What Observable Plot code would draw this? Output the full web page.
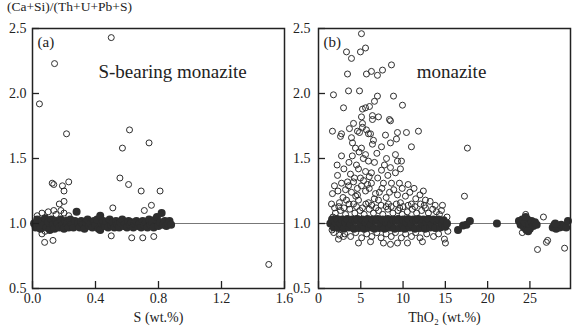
<!DOCTYPE html>
<html>
<head>
<meta charset="utf-8">
<script src="https://cdn.jsdelivr.net/npm/d3@7"></script>
<script src="https://cdn.jsdelivr.net/npm/@observablehq/plot@0.6"></script>
<style>
  body { margin: 0; background: #fff; }
  #wrap { position: relative; width: 577px; height: 328px; font-family: "Liberation Serif", "Times New Roman", Times, "DejaVu Serif", serif; color: #222; }
  #title { position: absolute; left: 7px; top: 0px; font-size: 13.5px; line-height: 14px; }
  #pa { position: absolute; left: 0; top: 0; }
  #pb { position: absolute; left: 288px; top: 0; }
  #wrap svg, #wrap svg text { font-family: "Liberation Serif", "Times New Roman", Times, "DejaVu Serif", serif !important; }
</style>
</head>
<body>
<div id="wrap">
  <div id="pa"></div>
  <div id="pb"></div>
  <div id="title">(Ca+Si)/(Th+U+Pb+S)</div>
</div>
<script>
// Shared y axis: (Ca+Si)/(Th+U+Pb+S)
const yTicks = [0.5, 1.0, 1.5, 2.0, 2.5];

// Panel (a): S-bearing monazite, x = S (wt.%)
const sTicks = [0.0, 0.4, 0.8, 1.2, 1.6];
const sOpen = [
  [0.044,1.92],[0.14,2.23],[0.50,2.43],[0.216,1.69],[0.616,1.72],[0.571,1.58],[0.74,1.62],
  [0.125,1.31],[0.135,1.30],[0.19,1.29],[0.23,1.32],[0.20,1.25],[0.555,1.35],[0.61,1.30],
  [0.69,1.25],[0.81,1.25],[0.51,1.12],[0.71,1.10],[0.755,1.14],[0.20,1.17],[0.17,1.15],
  [0.06,1.08],[0.10,1.09],[0.135,1.10],[0.18,1.10],[0.20,1.08],[0.06,0.92],[0.077,0.855],
  [0.13,0.87],[0.50,0.905],[0.63,0.89],[0.70,0.89],[0.77,0.90],[1.50,0.685],
  [0.03,1.06],[0.15,1.07],[0.08,0.94],[0.23,1.06]
];
const sFilled = [
  [0.01,1.00],[0.02,0.97],[0.03,1.03],[0.04,1.00],[0.05,0.96],[0.06,1.02],[0.07,0.99],[0.08,1.04],
  [0.09,0.97],[0.10,1.01],[0.11,0.95],[0.12,1.03],[0.13,0.99],[0.14,0.96],[0.15,1.02],[0.16,1.00],
  [0.17,0.97],[0.18,1.03],[0.19,0.99],[0.20,0.96],[0.21,1.02],[0.22,1.00],[0.23,0.97],[0.24,1.03],
  [0.25,0.99],[0.26,0.97],[0.27,1.02],[0.28,1.09],[0.29,1.00],[0.30,0.97],[0.31,1.02],[0.32,0.99],
  [0.33,0.96],[0.34,1.01],[0.35,1.03],[0.36,0.98],[0.37,1.00],[0.38,0.97],[0.39,1.02],[0.40,0.99],
  [0.41,1.03],[0.42,0.96],[0.43,1.06],[0.43,0.95],[0.44,1.00],[0.45,1.02],[0.46,0.98],[0.47,1.01],
  [0.48,0.97],[0.49,1.03],[0.50,0.99],[0.51,1.01],[0.52,0.97],[0.53,1.02],[0.54,0.99],[0.55,0.97],
  [0.56,1.01],[0.57,1.03],[0.58,0.98],[0.59,1.00],[0.60,0.97],[0.61,1.02],[0.62,0.99],[0.63,1.01],
  [0.64,0.97],[0.65,1.00],[0.66,1.02],[0.67,0.98],[0.68,1.00],[0.69,0.97],[0.70,1.02],[0.71,0.99],
  [0.72,1.01],[0.73,0.97],[0.74,1.03],[0.75,0.99],[0.76,1.01],[0.77,0.97],[0.78,1.03],[0.79,1.05],
  [0.80,0.98],[0.81,1.01],[0.82,1.08],[0.83,0.99],[0.84,1.02],[0.85,0.98],[0.86,1.00],[0.87,1.02],
  [0.88,0.99]
];

// Panel (b): monazite, x = ThO2 (wt.%)
const thTicks = [0, 5, 10, 15, 20, 25];
const thOpen = [
  [5.08,2.46],[3.31,2.32],[3.90,2.27],[4.96,2.32],[5.56,2.35],[3.43,2.15],[5.67,2.15],[6.26,2.17],
  [6.97,2.14],[7.57,2.18],[8.63,2.22],[1.77,1.99],[3.55,2.02],[4.85,2.02],[6.97,1.98],[8.87,1.98],
  [2.96,1.89],[5.20,1.88],[5.56,1.89],[6.03,1.90],[6.62,1.94],[9.93,1.91],[4.14,1.77],[5.08,1.82],
  [6.38,1.83],[6.38,1.80],[7.09,1.82],[8.39,1.80],[1.65,1.71],[2.72,1.69],[3.66,1.73],[4.61,1.71],
  [5.20,1.74],[5.67,1.72],[6.15,1.69],[7.92,1.68],[9.34,1.70],[10.40,1.70],[11.82,1.71],
  [2.60,1.67],[3.90,1.66],[4.85,1.70],[5.91,1.69],[4.02,1.62],[5.08,1.58],[4.37,1.58],[6.50,1.64],
  [6.38,1.61],[7.45,1.59],[8.51,1.62],[9.22,1.65],[10.99,1.59],[2.72,1.52],[5.56,1.53],[5.91,1.48],
  [6.62,1.47],[8.04,1.50],[9.10,1.53],[9.34,1.48],[9.81,1.48],[4.49,1.45],[4.73,1.42],[5.56,1.40],
  [6.26,1.39],[7.45,1.41],[8.51,1.43],[9.10,1.39],[9.69,1.42],[2.25,1.37],[3.78,1.38],[4.26,1.35],
  [4.96,1.35],[5.32,1.33],[4.14,1.32],[3.43,1.32],[1.89,1.29],[2.72,1.31],[3.55,1.29],[5.08,1.29],
  [6.26,1.31],[7.68,1.31],[8.63,1.31],[9.57,1.31],[1.65,1.23],[3.90,1.24],[4.61,1.22],[5.56,1.25],
  [6.74,1.23],[9.34,1.22],[10.28,1.21],[1.54,1.15],[2.48,1.16],[3.31,1.18],[4.14,1.15],[4.73,1.18],
  [5.91,1.16],[7.09,1.18],[8.27,1.15],[9.69,1.16],[10.99,1.15],[12.06,1.15],[12.65,1.18],
  [6.00,1.27],[7.20,1.24],[8.00,1.20],[8.90,1.26],[10.80,1.24],[11.50,1.19],[12.00,1.22],[2.90,1.20],
  [4.40,1.21],[6.60,1.19],[5.20,1.77],[8.51,1.79],
  [2.2,1.45],[3.0,1.42],[3.6,1.47],[4.0,1.52],[4.8,1.55],[5.3,1.50],[6.9,1.54],[7.8,1.45],[8.2,1.37],
  [7.0,1.35],[6.0,1.36],[5.8,1.30],[4.6,1.27],[3.2,1.26],[2.3,1.25],[7.5,1.27],[8.4,1.24],[9.9,1.27],
  [10.6,1.30],[11.3,1.27],[12.4,1.25],[13.2,1.17],[13.8,1.14],[1.9,1.12],[2.4,1.13],[3.6,1.15],
  [4.5,1.13],[5.6,1.15],[6.3,1.14],[7.4,1.14],[8.6,1.13],[9.2,1.15],[9.6,1.12],[10.6,1.14],[11.4,1.13],
  [12.5,1.14],[1.7,1.05],[14.3,1.07],[15.2,1.05],[1.6,0.95],[15.3,0.94],
  [17.61,1.58],[17.26,1.21],[14.66,1.14],[13.95,1.09],[12.65,1.12],[14.54,1.10],[24.5,1.07],[26.6,1.05],
  [2.0,1.08],[2.6,1.10],[3.2,1.07],[3.7,1.11],[4.3,1.08],[4.9,1.10],[5.4,1.07],[6.0,1.11],[6.5,1.08],
  [7.1,1.10],[7.6,1.07],[8.2,1.11],[8.8,1.08],[9.4,1.10],[9.9,1.07],[10.5,1.09],[11.1,1.11],[11.6,1.08],
  [12.2,1.10],[13.0,1.08],[13.5,1.11],[5.2,1.12],[8.0,1.13],[3.0,1.12],[6.8,1.12],[10.0,1.13],
  [3.1,0.92],[3.8,0.90],[4.4,0.93],[5.1,0.89],[5.7,0.92],[6.3,0.90],[6.9,0.93],[7.4,0.89],[8.0,0.92],
  [8.6,0.90],[9.1,0.93],[9.8,0.89],[10.3,0.92],[11.0,0.90],[11.5,0.93],[12.0,0.89],[12.8,0.92],
  [13.6,0.90],[14.2,0.92],[1.8,0.93],[2.5,0.91],
  [2.36,0.88],[2.96,0.90],[4.73,0.85],[6.15,0.86],[7.68,0.85],[8.51,0.84],[9.34,0.85],[10.52,0.85],
  [12.29,0.86],[14.89,0.88],[15.01,0.85],[25.9,0.80],[27.1,0.87],[26.95,0.855],[29.1,0.81],[24.1,0.93]
];
const thFilled = [
  [1.4,1.00],[1.6,1.03],[1.8,0.97],[2.0,1.01],[2.2,1.035],[2.4,0.965],[2.6,1.00],[2.8,1.03],[3.0,0.96],
  [3.2,1.01],[3.4,1.035],[3.6,0.97],[3.8,0.995],[4.0,1.03],[4.2,0.96],[4.4,1.02],[4.6,1.035],[4.8,0.965],
  [5.0,1.00],[5.2,1.03],[5.4,0.96],[5.6,1.01],[5.8,1.035],[6.0,0.97],[6.2,0.995],[6.4,1.03],[6.6,0.96],
  [6.8,1.02],[7.0,1.035],[7.2,0.965],[7.4,1.00],[7.6,1.03],[7.8,0.96],[8.0,1.01],[8.2,1.035],[8.4,0.97],
  [8.6,0.995],[8.8,1.03],[9.0,0.96],[9.2,1.02],[9.4,1.035],[9.6,0.965],[9.8,1.00],[10.0,1.03],[10.2,0.96],
  [10.4,1.01],[10.6,1.035],[10.8,0.97],[11.0,0.995],[11.2,1.03],[11.4,0.96],[11.6,1.02],[11.8,1.035],
  [12.0,0.965],[12.2,1.00],[12.4,1.03],[12.6,0.96],[12.8,1.01],[13.0,1.035],[13.2,0.97],[13.4,0.995],
  [13.6,1.03],[13.8,0.965],[14.0,1.02],[14.2,1.03],[14.4,0.97],[14.6,1.00],[14.8,1.025],[15.0,0.975],
  [15.2,1.00],
  [16.5,0.95],[17.1,0.985],[17.5,0.99],[17.9,1.02],[21.1,1.00],
  [23.7,1.02],[23.9,0.99],[24.1,1.03],[24.3,0.97],[24.4,1.01],[24.6,0.95],[24.7,1.03],[24.9,0.99],
  [25.0,0.96],[25.2,1.02],[25.4,0.98],[25.6,1.01],[25.8,0.99],[24.5,1.05],[24.8,0.94],
  [27.7,0.97],[27.9,0.99],[28.1,0.96],[28.3,0.98],[28.5,0.97],[28.7,0.99],[28.9,0.975],[29.1,0.98],
  [29.3,0.97],[29.5,1.02],[28.0,1.00]
];

const INK = "#2e2e2e";
const FONT = "'Liberation Serif', 'Times New Roman', Times, 'DejaVu Serif', serif";

function panel(o) {
  const height = 328, marginTop = 28, marginBottom = 40;
  const innerW = o.width - o.marginLeft - o.marginRight;
  const innerH = height - marginTop - marginBottom;
  return Plot.plot({
    width: o.width,
    height,
    marginTop,
    marginBottom,
    marginLeft: o.marginLeft,
    marginRight: o.marginRight,
    style: { fontFamily: FONT, fontSize: "14px", color: "#222", background: "transparent", overflow: "visible" },
    x: { domain: o.xDomain, ticks: o.xTicks, tickFormat: o.xFormat, tickSize: 0, tickPadding: 5, label: null },
    y: { domain: [0.5, 2.5], ticks: yTicks, tickFormat: ".1f", tickSize: 0, tickPadding: o.yPad, label: null },
    marks: [
      // reference line at ratio 1
      Plot.ruleY([1], { stroke: "#777", strokeWidth: 1 }),
      Plot.dot(o.open, { x: d => d[0], y: d => d[1], r: 3, stroke: INK, strokeWidth: 1, fill: "none" }),
      Plot.dot(o.filled, { x: d => d[0], y: d => d[1], r: 4, fill: INK, stroke: "none" }),
      // inward tick marks
      Plot.tickY(yTicks, { y: d => d, insetRight: innerW - 7, stroke: "#222", strokeWidth: 1.3 }),
      Plot.tickX(o.xTicks, { x: d => d, insetTop: innerH - 7, stroke: "#222", strokeWidth: 1.3 }),
      Plot.frame({ stroke: "#222", strokeWidth: 1.5 }),
      Plot.text([o.tag], { frameAnchor: "top-left", text: d => d, textAnchor: "start", lineAnchor: "bottom", dx: 5, dy: 18, fontSize: 15, fill: "#222" }),
      Plot.text([o.name], { frameAnchor: "top", text: d => d, lineAnchor: "bottom", dx: o.nameDx, dy: 49, fontSize: 19, fill: "#222" }),
      Plot.text([o.xLabel], { frameAnchor: "bottom", text: d => d, lineAnchor: "bottom", dy: 33, fontSize: 14, fill: "#222" })
    ]
  });
}

document.getElementById("pa").append(panel({
  width: 288, marginLeft: 32, marginRight: 4, yPad: 6,
  xDomain: [0, 1.6], xTicks: sTicks, xFormat: ".1f",
  open: sOpen, filled: sFilled,
  tag: "(a)", name: "S-bearing monazite", nameDx: 14, xLabel: "S (wt.%)"
}));

document.getElementById("pb").append(panel({
  width: 289, marginLeft: 30, marginRight: 7, yPad: 8,
  xDomain: [0, 29.8], xTicks: thTicks, xFormat: "d",
  open: thOpen, filled: thFilled,
  tag: "(b)", name: "monazite", nameDx: 7, xLabel: "ThO₂ (wt.%)"
}));
</script>
</body>
</html>
